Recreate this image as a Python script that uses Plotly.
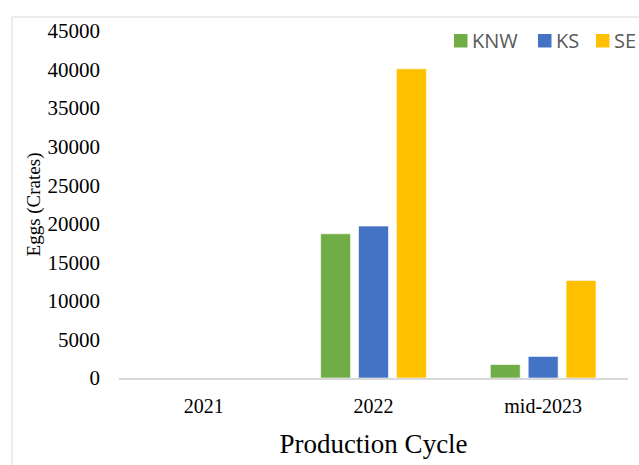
import plotly.graph_objects as go

categories = ["2021", "2022", "mid-2023"]
knw = [0, 18700, 1750]
ks = [0, 19700, 2800]
se = [0, 40100, 12650]
series_names = ["KNW", "KS", "SE"]
colors = ["#70AD47", "#4472C4", "#FFC000"]
y_ticks = [0, 5000, 10000, 15000, 20000, 25000, 30000, 35000, 40000, 45000]

fig = go.Figure()
for name, vals, col in zip(series_names, [knw, ks, se], colors):
    fig.add_trace(go.Bar(x=categories, y=vals, name=name, marker_color=col,
                         marker_line=dict(color="rgba(255,255,255,0.6)", width=1),
                         showlegend=False))

serif = "Liberation Serif"
W, H = 639, 465
L, R, T, B = 119, 11, 31, 87
pw, ph = W - L - R, H - T - B


def px(x):  # page pixel x -> paper fraction
    return (x - L) / pw


def py(y):  # page pixel y -> paper fraction
    return (H - B - y) / ph


shapes = [dict(type="rect", xref="paper", yref="paper",
               x0=px(12), x1=px(648), y0=py(478), y1=py(17),
               line=dict(color="#D9D9D9", width=1), fillcolor="rgba(0,0,0,0)", layer="below")]
annotations = []
# legend (drawn from series names and colours)
sq_left = [454, 538, 596]
for name, col, x0 in zip(series_names, colors, sq_left):
    shapes.append(dict(type="rect", xref="paper", yref="paper",
                       x0=px(x0), x1=px(x0 + 13.5), y0=py(47.5), y1=py(34),
                       line=dict(width=0), fillcolor=col))
    annotations.append(dict(xref="paper", yref="paper", x=px(x0 + 16), y=py(40.5),
                            xanchor="left", yanchor="middle", showarrow=False, text=name,
                            font=dict(family="Open Sans", size=20, color="#595959")))

fig.update_layout(
    width=W, height=H,
    margin=dict(l=L, r=R, t=T, b=B, autoexpand=False),
    paper_bgcolor="white", plot_bgcolor="white",
    barmode="group", bargap=0.33, bargroupgap=0.21,
    showlegend=False,
    xaxis=dict(showline=True, linecolor="#D9D9D9", linewidth=1.5, ticks="",
               tickfont=dict(family=serif, size=20, color="black"), automargin=False,
               ticklabelstandoff=9,
               title=dict(text="Production Cycle", font=dict(family=serif, size=27, color="black"), standoff=18)),
    yaxis=dict(range=[0, 45000], tickvals=y_ticks, ticktext=[str(v) for v in y_ticks],
               showgrid=False, zeroline=False, showline=False, automargin=False,
               tickfont=dict(family=serif, size=21, color="black"), ticklabelstandoff=18,
               title=dict(text="Eggs (Crates)", font=dict(family=serif, size=19, color="black"), standoff=1)),
    shapes=shapes,
    annotations=annotations,
)

fig.write_html("out.html",
               config={"displayModeBar": False},
               post_script="document.body.style.margin='0';document.body.style.overflow='hidden';")
